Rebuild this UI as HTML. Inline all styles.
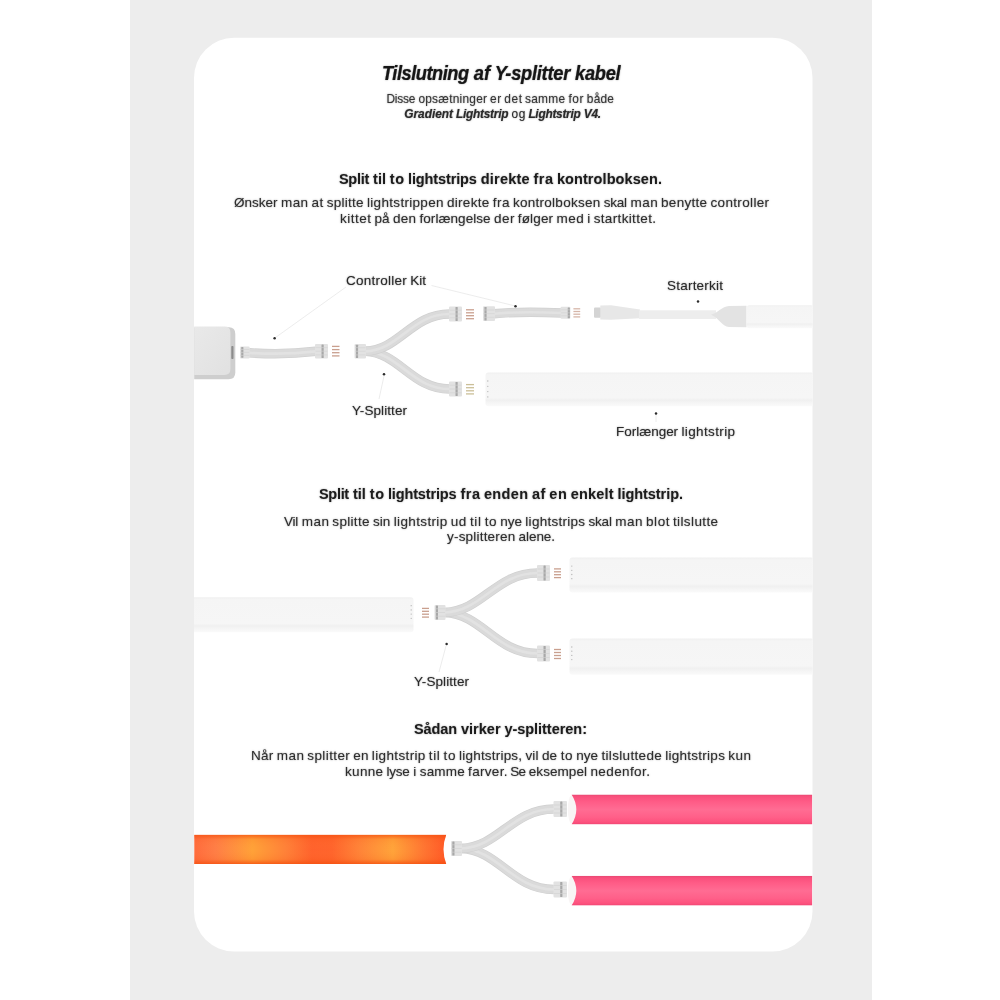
<!DOCTYPE html>
<html lang="da">
<head>
<meta charset="utf-8">
<title>Tilslutning af Y-splitter kabel</title>
<style>
html,body{margin:0;padding:0;background:#fff;}
body{width:1000px;height:1000px;overflow:hidden;}
.page{position:relative;width:1000px;height:1000px;overflow:hidden;background:#fff;font-family:"Liberation Sans",sans-serif;}
.band{position:absolute;left:130px;top:0;width:742px;height:1000px;background:#ededed;}
.card{position:absolute;left:194px;top:37px;width:618px;height:914px;border-radius:40px;background:#fff;transform-origin:0 0;transform:translateY(0.7px) scale(1.00081,0.99978);}
.dia{position:absolute;left:0;top:0;width:1000px;height:1000px;}
.txt{position:absolute;left:0;top:0;width:1000px;height:1000px;transform:translateZ(0);}
.t{position:absolute;white-space:nowrap;margin:0;padding:0;font-weight:400;font-style:normal;transform-origin:0 50%;}
.t b{font-weight:700;-webkit-text-stroke:0;}
.title b{-webkit-text-stroke:0.2px currentColor;}
.sub b{-webkit-text-stroke:0.12px currentColor;}
.body{-webkit-text-stroke:0.004em currentColor;}
.sub{-webkit-text-stroke:0.004em currentColor;}
.label{-webkit-text-stroke:0.004em currentColor;}
.t{text-shadow:0 0 1.7px rgba(40,40,40,0.5);}

</style>
</head>
<body>
<div class="page">
<div class="band"></div>
<div class="card"></div>
<svg class="dia" width="1000" height="1000" viewBox="0 0 1000 1000" aria-hidden="true">
<defs>
<linearGradient id="og" gradientUnits="userSpaceOnUse" x1="193" y1="0" x2="446" y2="0"><stop offset="0" stop-color="#ff6a3c"/><stop offset="0.09" stop-color="#ff7e46"/><stop offset="0.235" stop-color="#ffa238"/><stop offset="0.37" stop-color="#ff8038"/><stop offset="0.47" stop-color="#ff622c"/><stop offset="0.55" stop-color="#ff642c"/><stop offset="0.66" stop-color="#ff8438"/><stop offset="0.79" stop-color="#ffa43a"/><stop offset="0.91" stop-color="#ff7632"/><stop offset="1" stop-color="#ff5826"/></linearGradient>
<linearGradient id="ov" x1="0" y1="0" x2="0" y2="1"><stop offset="0" stop-color="#f4500f" stop-opacity="0.75"/><stop offset="0.16" stop-color="#f4500f" stop-opacity="0.12"/><stop offset="0.5" stop-color="#ff9040" stop-opacity="0"/><stop offset="0.84" stop-color="#f4500f" stop-opacity="0.14"/><stop offset="1" stop-color="#f4500f" stop-opacity="0.8"/></linearGradient>
<linearGradient id="pg" x1="0" y1="0" x2="0" y2="1"><stop offset="0" stop-color="#e64872"/><stop offset="0.07" stop-color="#f9507c"/><stop offset="0.25" stop-color="#ff5c87"/><stop offset="0.5" stop-color="#ff6c93"/><stop offset="0.75" stop-color="#ff6089"/><stop offset="0.92" stop-color="#fd527e"/><stop offset="1" stop-color="#f04673"/></linearGradient>
<linearGradient id="box" x1="0" y1="0" x2="1" y2="1"><stop offset="0" stop-color="#e9e9e9"/><stop offset="1" stop-color="#e1e1e1"/></linearGradient>
<clipPath id="cardclip"><rect x="194" y="37.7" width="618.5" height="913.8" rx="40"/></clipPath>
</defs>
<g clip-path="url(#cardclip)"><g>
<line x1="346.0" y1="287.0" x2="275.5" y2="337.5" stroke="#eaeaea" stroke-width="0.9"/>
<line x1="431.5" y1="285.5" x2="514.5" y2="305.8" stroke="#eaeaea" stroke-width="0.9"/>
<line x1="384.0" y1="376.0" x2="379.0" y2="399.0" stroke="#eaeaea" stroke-width="0.9"/>
<line x1="656.0" y1="415.0" x2="656.0" y2="422.0" stroke="#eaeaea" stroke-width="0.9"/>
<path d="M194.2,327.2 L229,327.2 Q235.3,327.2 235.3,334 L235.3,372.5 Q235.3,379.3 228.5,379.3 L194.2,379.3 Z" fill="#cecece"/>
<path d="M194.2,326.6 L224.5,326.6 Q230.4,326.6 230.4,332.5 L230.4,369 Q230.4,374.9 224.5,374.9 L194.2,374.9 Z" fill="url(#box)"/>
<rect x="231.3" y="346.0" width="2.2" height="13.0" rx="0.8" fill="#8c8c8c" />
<path d="M249,352.8 C270,354.2 295,353.8 316,351.3" fill="none" stroke="#d0d0d0" stroke-width="9.6" stroke-linecap="butt"/>
<path d="M249,352.8 C270,354.2 295,353.8 316,351.3" fill="none" stroke="#dadada" stroke-width="8.2" stroke-linecap="butt"/>
<path d="M249,352.8 C270,354.2 295,353.8 316,351.3" fill="none" stroke="#e3e3e3" stroke-width="2.7" stroke-linecap="butt" opacity="0.8"/>
<rect x="240.0" y="346.5" width="9.6" height="11.9" rx="1" fill="#e2e2e2" />
<rect x="241.2" y="347.1" width="2.2" height="10.7" rx="0.5" fill="#a8a8a8" />
<line x1="240.5" y1="349.5" x2="249.1" y2="349.5" stroke="#d2d2d2" stroke-width="0.6"/>
<line x1="240.5" y1="352.4" x2="249.1" y2="352.4" stroke="#d2d2d2" stroke-width="0.6"/>
<line x1="240.5" y1="355.4" x2="249.1" y2="355.4" stroke="#d2d2d2" stroke-width="0.6"/>
<rect x="315.0" y="344.0" width="13.0" height="14.5" rx="1" fill="#e2e2e2" />
<rect x="321.5" y="344.6" width="2.2" height="13.3" rx="0.5" fill="#a8a8a8" />
<line x1="315.5" y1="347.6" x2="327.5" y2="347.6" stroke="#d2d2d2" stroke-width="0.6"/>
<line x1="315.5" y1="351.2" x2="327.5" y2="351.2" stroke="#d2d2d2" stroke-width="0.6"/>
<line x1="315.5" y1="354.9" x2="327.5" y2="354.9" stroke="#d2d2d2" stroke-width="0.6"/>
<line x1="332.0" y1="346.4" x2="339.5" y2="346.4" stroke="#c99f8e" stroke-width="1.3"/>
<line x1="332.0" y1="349.6" x2="339.5" y2="349.6" stroke="#c99f8e" stroke-width="1.3"/>
<line x1="332.0" y1="352.7" x2="339.5" y2="352.7" stroke="#c99f8e" stroke-width="1.3"/>
<line x1="332.0" y1="355.9" x2="339.5" y2="355.9" stroke="#c99f8e" stroke-width="1.3"/>
<path d="M365.5,351.3 C399.1,352.4 411.7,389.0 449.5,389.0" fill="none" stroke="#d0d0d0" stroke-width="9.6" stroke-linecap="butt"/>
<path d="M365.5,351.3 C399.1,352.4 411.7,389.0 449.5,389.0" fill="none" stroke="#dadada" stroke-width="8.2" stroke-linecap="butt"/>
<path d="M365.5,351.3 C399.1,352.4 411.7,389.0 449.5,389.0" fill="none" stroke="#e3e3e3" stroke-width="2.7" stroke-linecap="butt" opacity="0.8"/>
<path d="M365.5,351.3 C399.1,350.2 411.7,314.0 449.5,314.0" fill="none" stroke="#d0d0d0" stroke-width="9.6" stroke-linecap="butt"/>
<path d="M365.5,351.3 C399.1,350.2 411.7,314.0 449.5,314.0" fill="none" stroke="#dadada" stroke-width="8.2" stroke-linecap="butt"/>
<path d="M365.5,351.3 C399.1,350.2 411.7,314.0 449.5,314.0" fill="none" stroke="#e3e3e3" stroke-width="2.7" stroke-linecap="butt" opacity="0.8"/>
<rect x="354.5" y="344.1" width="11.5" height="14.5" rx="1" fill="#e2e2e2" />
<rect x="355.9" y="344.7" width="2.2" height="13.3" rx="0.5" fill="#a8a8a8" />
<line x1="355.0" y1="347.7" x2="365.5" y2="347.7" stroke="#d2d2d2" stroke-width="0.6"/>
<line x1="355.0" y1="351.3" x2="365.5" y2="351.3" stroke="#d2d2d2" stroke-width="0.6"/>
<line x1="355.0" y1="354.9" x2="365.5" y2="354.9" stroke="#d2d2d2" stroke-width="0.6"/>
<rect x="449.0" y="306.5" width="13.0" height="15.0" rx="1" fill="#e2e2e2" />
<rect x="455.5" y="307.1" width="2.2" height="13.8" rx="0.5" fill="#a8a8a8" />
<line x1="449.5" y1="310.2" x2="461.5" y2="310.2" stroke="#d2d2d2" stroke-width="0.6"/>
<line x1="449.5" y1="314.0" x2="461.5" y2="314.0" stroke="#d2d2d2" stroke-width="0.6"/>
<line x1="449.5" y1="317.8" x2="461.5" y2="317.8" stroke="#d2d2d2" stroke-width="0.6"/>
<rect x="449.0" y="381.5" width="13.0" height="15.0" rx="1" fill="#e2e2e2" />
<rect x="455.5" y="382.1" width="2.2" height="13.8" rx="0.5" fill="#a8a8a8" />
<line x1="449.5" y1="385.2" x2="461.5" y2="385.2" stroke="#d2d2d2" stroke-width="0.6"/>
<line x1="449.5" y1="389.0" x2="461.5" y2="389.0" stroke="#d2d2d2" stroke-width="0.6"/>
<line x1="449.5" y1="392.8" x2="461.5" y2="392.8" stroke="#d2d2d2" stroke-width="0.6"/>
<line x1="466.0" y1="309.8" x2="474.0" y2="309.8" stroke="#c99f8e" stroke-width="1.3"/>
<line x1="466.0" y1="312.8" x2="474.0" y2="312.8" stroke="#c99f8e" stroke-width="1.3"/>
<line x1="466.0" y1="315.7" x2="474.0" y2="315.7" stroke="#c99f8e" stroke-width="1.3"/>
<line x1="466.0" y1="318.7" x2="474.0" y2="318.7" stroke="#c99f8e" stroke-width="1.3"/>
<line x1="466.0" y1="384.6" x2="474.0" y2="384.6" stroke="#cbbf98" stroke-width="1.3"/>
<line x1="466.0" y1="387.7" x2="474.0" y2="387.7" stroke="#cbbf98" stroke-width="1.3"/>
<line x1="466.0" y1="390.8" x2="474.0" y2="390.8" stroke="#cbbf98" stroke-width="1.3"/>
<line x1="466.0" y1="393.9" x2="474.0" y2="393.9" stroke="#cbbf98" stroke-width="1.3"/>
<path d="M494,313.7 C515,311.8 540,312 562,313" fill="none" stroke="#d0d0d0" stroke-width="9.4" stroke-linecap="butt"/>
<path d="M494,313.7 C515,311.8 540,312 562,313" fill="none" stroke="#dadada" stroke-width="8.0" stroke-linecap="butt"/>
<path d="M494,313.7 C515,311.8 540,312 562,313" fill="none" stroke="#e3e3e3" stroke-width="2.6" stroke-linecap="butt" opacity="0.8"/>
<rect x="483.0" y="306.3" width="12.0" height="14.7" rx="1" fill="#e2e2e2" />
<rect x="484.4" y="306.9" width="2.2" height="13.5" rx="0.5" fill="#a8a8a8" />
<line x1="483.5" y1="310.0" x2="494.5" y2="310.0" stroke="#d2d2d2" stroke-width="0.6"/>
<line x1="483.5" y1="313.6" x2="494.5" y2="313.6" stroke="#d2d2d2" stroke-width="0.6"/>
<line x1="483.5" y1="317.3" x2="494.5" y2="317.3" stroke="#d2d2d2" stroke-width="0.6"/>
<rect x="560.6" y="306.8" width="9.8" height="12.0" rx="1" fill="#e2e2e2" />
<rect x="567.7" y="307.4" width="2.2" height="10.8" rx="0.5" fill="#a8a8a8" />
<line x1="561.1" y1="309.8" x2="569.9" y2="309.8" stroke="#d2d2d2" stroke-width="0.6"/>
<line x1="561.1" y1="312.8" x2="569.9" y2="312.8" stroke="#d2d2d2" stroke-width="0.6"/>
<line x1="561.1" y1="315.8" x2="569.9" y2="315.8" stroke="#d2d2d2" stroke-width="0.6"/>
<line x1="573.4" y1="308.8" x2="580.2" y2="308.8" stroke="#d6b6a9" stroke-width="1.3"/>
<line x1="573.4" y1="311.5" x2="580.2" y2="311.5" stroke="#d6b6a9" stroke-width="1.3"/>
<line x1="573.4" y1="314.2" x2="580.2" y2="314.2" stroke="#d6b6a9" stroke-width="1.3"/>
<line x1="573.4" y1="316.9" x2="580.2" y2="316.9" stroke="#d6b6a9" stroke-width="1.3"/>
<rect x="594.0" y="307.6" width="7.0" height="10.2" rx="1" fill="#d4d4d4" />
<path d="M600.3,305.6 L611,305.2 L640,309.6 L640,318.2 L611,319.8 L600.3,319.4 Z" fill="#e7e7e7"/>
<rect x="639.0" y="310.3" width="77.0" height="8.7" rx="0" fill="#ededed" />
<path d="M711,314.7 C718,313 722,306.3 729,306 L746.5,305.8 L746.5,327.3 L729,327 C722,326.5 718,317 711,314.7 Z" fill="#e3e3e3"/>
<linearGradient id="ws83" x1="0" y1="0" x2="0" y2="1"><stop offset="0" stop-color="#f0f0f0"/><stop offset="0.07" stop-color="#f5f5f5"/><stop offset="0.75" stop-color="#f6f6f6"/><stop offset="0.82" stop-color="#f0f0f0"/><stop offset="0.9" stop-color="#f5f5f5"/><stop offset="1" stop-color="#fafafa"/></linearGradient>
<rect x="746.5" y="305.3" width="67.5" height="22.9" rx="3" fill="url(#ws83)" />
<linearGradient id="ws85" x1="0" y1="0" x2="0" y2="1"><stop offset="0" stop-color="#f0f0f0"/><stop offset="0.07" stop-color="#f5f5f5"/><stop offset="0.75" stop-color="#f6f6f6"/><stop offset="0.82" stop-color="#f0f0f0"/><stop offset="0.9" stop-color="#f5f5f5"/><stop offset="1" stop-color="#fafafa"/></linearGradient>
<rect x="485.5" y="372.4" width="328.5" height="33.8" rx="3" fill="url(#ws85)" />
<circle cx="487.8" cy="381.0" r="0.65" fill="#b4b4b4"/>
<circle cx="487.8" cy="386.3" r="0.65" fill="#b4b4b4"/>
<circle cx="487.8" cy="391.6" r="0.65" fill="#b4b4b4"/>
<circle cx="487.8" cy="396.9" r="0.65" fill="#b4b4b4"/>
<circle cx="274.6" cy="338.3" r="1.25" fill="#2b2b2b"/>
<circle cx="515.5" cy="306.3" r="1.25" fill="#2b2b2b"/>
<circle cx="698.0" cy="301.5" r="1.25" fill="#2b2b2b"/>
<circle cx="384.0" cy="374.2" r="1.25" fill="#2b2b2b"/>
<circle cx="656.0" cy="413.6" r="1.25" fill="#2b2b2b"/>
<line x1="446.0" y1="646.0" x2="439.0" y2="672.0" stroke="#eaeaea" stroke-width="0.9"/>
<linearGradient id="ws97" x1="0" y1="0" x2="0" y2="1"><stop offset="0" stop-color="#f0f0f0"/><stop offset="0.07" stop-color="#f5f5f5"/><stop offset="0.75" stop-color="#f6f6f6"/><stop offset="0.82" stop-color="#f0f0f0"/><stop offset="0.9" stop-color="#f5f5f5"/><stop offset="1" stop-color="#fafafa"/></linearGradient>
<rect x="192.0" y="597.2" width="221.5" height="35.1" rx="3" fill="url(#ws97)" />
<circle cx="411.2" cy="605.7" r="0.65" fill="#b4b4b4"/>
<circle cx="411.2" cy="609.9" r="0.65" fill="#b4b4b4"/>
<circle cx="411.2" cy="614.1" r="0.65" fill="#b4b4b4"/>
<circle cx="411.2" cy="618.3" r="0.65" fill="#b4b4b4"/>
<line x1="422.0" y1="608.4" x2="429.0" y2="608.4" stroke="#c99f8e" stroke-width="1.3"/>
<line x1="422.0" y1="611.3" x2="429.0" y2="611.3" stroke="#c99f8e" stroke-width="1.3"/>
<line x1="422.0" y1="614.2" x2="429.0" y2="614.2" stroke="#c99f8e" stroke-width="1.3"/>
<line x1="422.0" y1="617.1" x2="429.0" y2="617.1" stroke="#c99f8e" stroke-width="1.3"/>
<path d="M445.0,612.5 C482.0,613.7 495.9,653.5 537.5,653.5" fill="none" stroke="#d0d0d0" stroke-width="9.6" stroke-linecap="butt"/>
<path d="M445.0,612.5 C482.0,613.7 495.9,653.5 537.5,653.5" fill="none" stroke="#dadada" stroke-width="8.2" stroke-linecap="butt"/>
<path d="M445.0,612.5 C482.0,613.7 495.9,653.5 537.5,653.5" fill="none" stroke="#e3e3e3" stroke-width="2.7" stroke-linecap="butt" opacity="0.8"/>
<path d="M445.0,612.5 C482.0,611.3 495.9,573.0 537.5,573.0" fill="none" stroke="#d0d0d0" stroke-width="9.6" stroke-linecap="butt"/>
<path d="M445.0,612.5 C482.0,611.3 495.9,573.0 537.5,573.0" fill="none" stroke="#dadada" stroke-width="8.2" stroke-linecap="butt"/>
<path d="M445.0,612.5 C482.0,611.3 495.9,573.0 537.5,573.0" fill="none" stroke="#e3e3e3" stroke-width="2.7" stroke-linecap="butt" opacity="0.8"/>
<rect x="434.5" y="605.0" width="11.0" height="15.0" rx="1" fill="#e2e2e2" />
<rect x="435.8" y="605.6" width="2.2" height="13.8" rx="0.5" fill="#a8a8a8" />
<line x1="435.0" y1="608.8" x2="445.0" y2="608.8" stroke="#d2d2d2" stroke-width="0.6"/>
<line x1="435.0" y1="612.5" x2="445.0" y2="612.5" stroke="#d2d2d2" stroke-width="0.6"/>
<line x1="435.0" y1="616.2" x2="445.0" y2="616.2" stroke="#d2d2d2" stroke-width="0.6"/>
<rect x="537.0" y="565.0" width="13.0" height="16.0" rx="1" fill="#e2e2e2" />
<rect x="543.5" y="565.6" width="2.2" height="14.8" rx="0.5" fill="#a8a8a8" />
<line x1="537.5" y1="569.0" x2="549.5" y2="569.0" stroke="#d2d2d2" stroke-width="0.6"/>
<line x1="537.5" y1="573.0" x2="549.5" y2="573.0" stroke="#d2d2d2" stroke-width="0.6"/>
<line x1="537.5" y1="577.0" x2="549.5" y2="577.0" stroke="#d2d2d2" stroke-width="0.6"/>
<rect x="537.0" y="645.5" width="13.0" height="16.0" rx="1" fill="#e2e2e2" />
<rect x="543.5" y="646.1" width="2.2" height="14.8" rx="0.5" fill="#a8a8a8" />
<line x1="537.5" y1="649.5" x2="549.5" y2="649.5" stroke="#d2d2d2" stroke-width="0.6"/>
<line x1="537.5" y1="653.5" x2="549.5" y2="653.5" stroke="#d2d2d2" stroke-width="0.6"/>
<line x1="537.5" y1="657.5" x2="549.5" y2="657.5" stroke="#d2d2d2" stroke-width="0.6"/>
<line x1="554.0" y1="568.9" x2="561.0" y2="568.9" stroke="#c99f8e" stroke-width="1.3"/>
<line x1="554.0" y1="571.8" x2="561.0" y2="571.8" stroke="#c99f8e" stroke-width="1.3"/>
<line x1="554.0" y1="574.7" x2="561.0" y2="574.7" stroke="#c99f8e" stroke-width="1.3"/>
<line x1="554.0" y1="577.6" x2="561.0" y2="577.6" stroke="#c99f8e" stroke-width="1.3"/>
<line x1="554.0" y1="649.5" x2="561.0" y2="649.5" stroke="#c99f8e" stroke-width="1.3"/>
<line x1="554.0" y1="652.5" x2="561.0" y2="652.5" stroke="#c99f8e" stroke-width="1.3"/>
<line x1="554.0" y1="655.5" x2="561.0" y2="655.5" stroke="#c99f8e" stroke-width="1.3"/>
<line x1="554.0" y1="658.5" x2="561.0" y2="658.5" stroke="#c99f8e" stroke-width="1.3"/>
<linearGradient id="ws136" x1="0" y1="0" x2="0" y2="1"><stop offset="0" stop-color="#f0f0f0"/><stop offset="0.07" stop-color="#f5f5f5"/><stop offset="0.75" stop-color="#f6f6f6"/><stop offset="0.82" stop-color="#f0f0f0"/><stop offset="0.9" stop-color="#f5f5f5"/><stop offset="1" stop-color="#fafafa"/></linearGradient>
<rect x="569.5" y="557.6" width="244.5" height="35.0" rx="3" fill="url(#ws136)" />
<circle cx="571.8" cy="566.1" r="0.65" fill="#b4b4b4"/>
<circle cx="571.8" cy="570.3" r="0.65" fill="#b4b4b4"/>
<circle cx="571.8" cy="574.5" r="0.65" fill="#b4b4b4"/>
<circle cx="571.8" cy="578.7" r="0.65" fill="#b4b4b4"/>
<linearGradient id="ws142" x1="0" y1="0" x2="0" y2="1"><stop offset="0" stop-color="#f0f0f0"/><stop offset="0.07" stop-color="#f5f5f5"/><stop offset="0.75" stop-color="#f6f6f6"/><stop offset="0.82" stop-color="#f0f0f0"/><stop offset="0.9" stop-color="#f5f5f5"/><stop offset="1" stop-color="#fafafa"/></linearGradient>
<rect x="569.5" y="638.5" width="244.5" height="36.3" rx="3" fill="url(#ws142)" />
<circle cx="571.8" cy="647.0" r="0.65" fill="#b4b4b4"/>
<circle cx="571.8" cy="651.2" r="0.65" fill="#b4b4b4"/>
<circle cx="571.8" cy="655.4" r="0.65" fill="#b4b4b4"/>
<circle cx="571.8" cy="659.6" r="0.65" fill="#b4b4b4"/>
<circle cx="446.6" cy="644.0" r="1.25" fill="#2b2b2b"/>
<clipPath id="oc"><path d="M194.3,834.8 L446.2,834.8 Q440.8,849.3 446.2,863.9 L194.3,863.9 Z"/></clipPath>
<g clip-path="url(#oc)">
<rect x="192.0" y="834.6" width="256.0" height="29.4" rx="0" fill="url(#og)" />
<rect x="192.0" y="834.6" width="256.0" height="29.4" rx="0" fill="url(#ov)" />
</g>
<path d="M461.5,848.5 C498.5,849.7 512.4,889.5 554.0,889.5" fill="none" stroke="#d0d0d0" stroke-width="9.6" stroke-linecap="butt"/>
<path d="M461.5,848.5 C498.5,849.7 512.4,889.5 554.0,889.5" fill="none" stroke="#dadada" stroke-width="8.2" stroke-linecap="butt"/>
<path d="M461.5,848.5 C498.5,849.7 512.4,889.5 554.0,889.5" fill="none" stroke="#e3e3e3" stroke-width="2.7" stroke-linecap="butt" opacity="0.8"/>
<path d="M461.5,848.5 C498.5,847.3 512.4,809.0 554.0,809.0" fill="none" stroke="#d0d0d0" stroke-width="9.6" stroke-linecap="butt"/>
<path d="M461.5,848.5 C498.5,847.3 512.4,809.0 554.0,809.0" fill="none" stroke="#dadada" stroke-width="8.2" stroke-linecap="butt"/>
<path d="M461.5,848.5 C498.5,847.3 512.4,809.0 554.0,809.0" fill="none" stroke="#e3e3e3" stroke-width="2.7" stroke-linecap="butt" opacity="0.8"/>
<rect x="451.0" y="841.0" width="11.0" height="15.0" rx="1" fill="#e2e2e2" />
<rect x="452.3" y="841.6" width="2.2" height="13.8" rx="0.5" fill="#a8a8a8" />
<line x1="451.5" y1="844.8" x2="461.5" y2="844.8" stroke="#d2d2d2" stroke-width="0.6"/>
<line x1="451.5" y1="848.5" x2="461.5" y2="848.5" stroke="#d2d2d2" stroke-width="0.6"/>
<line x1="451.5" y1="852.2" x2="461.5" y2="852.2" stroke="#d2d2d2" stroke-width="0.6"/>
<rect x="553.5" y="801.0" width="13.5" height="16.0" rx="1" fill="#e2e2e2" />
<rect x="560.2" y="801.6" width="2.2" height="14.8" rx="0.5" fill="#a8a8a8" />
<line x1="554.0" y1="805.0" x2="566.5" y2="805.0" stroke="#d2d2d2" stroke-width="0.6"/>
<line x1="554.0" y1="809.0" x2="566.5" y2="809.0" stroke="#d2d2d2" stroke-width="0.6"/>
<line x1="554.0" y1="813.0" x2="566.5" y2="813.0" stroke="#d2d2d2" stroke-width="0.6"/>
<rect x="553.5" y="881.5" width="13.5" height="16.0" rx="1" fill="#e2e2e2" />
<rect x="560.2" y="882.1" width="2.2" height="14.8" rx="0.5" fill="#a8a8a8" />
<line x1="554.0" y1="885.5" x2="566.5" y2="885.5" stroke="#d2d2d2" stroke-width="0.6"/>
<line x1="554.0" y1="889.5" x2="566.5" y2="889.5" stroke="#d2d2d2" stroke-width="0.6"/>
<line x1="554.0" y1="893.5" x2="566.5" y2="893.5" stroke="#d2d2d2" stroke-width="0.6"/>
<ellipse cx="572" cy="809.5" rx="4.2" ry="14.4" fill="#f8f5f5"/>
<clipPath id="pc1"><path d="M571.6,794.5 L812.2,794.5 L812.2,824.4 L571.6,824.4 Q581,809.45 571.6,794.5 Z"/></clipPath>
<rect x="568" y="794.5" width="246" height="29.9" fill="url(#pg)" clip-path="url(#pc1)"/>
<ellipse cx="572" cy="890.7" rx="4.2" ry="14.4" fill="#f8f5f5"/>
<clipPath id="pc2"><path d="M571.6,875.8 L812.2,875.8 L812.2,905.6 L571.6,905.6 Q581,890.7 571.6,875.8 Z"/></clipPath>
<rect x="568" y="875.8" width="246" height="29.8" fill="url(#pg)" clip-path="url(#pc2)"/>
</g></g>
</svg>

<div class="txt">
<h1 class="t title" style="left:381.8px;top:61.84px;font-size:19.4px;line-height:23.28px;color:#161616;word-spacing:-0.36px;transform:scaleX(0.94);"><b style="font-style:italic;letter-spacing:-0.51px;margin-right:0.51px">Tilslutning</b> <b style="font-style:italic;letter-spacing:0.07px;margin-right:-0.07px">af</b> <b style="font-style:italic;letter-spacing:-0.25px;margin-right:0.25px">Y-splitter</b> <b style="font-style:italic;letter-spacing:-0.27px;margin-right:0.27px">kabel</b></h1>
<p class="t sub" style="left:386.4px;top:92.24px;font-size:11.9px;line-height:14.28px;color:#363636;word-spacing:-0.30px;"><span style="letter-spacing:-0.19px;margin-right:0.19px">Disse</span> <span style="letter-spacing:0.25px;margin-right:-0.25px">opsætninger</span> <span style="letter-spacing:0.60px;margin-left:0.03px;margin-right:-0.57px">er</span> <span style="letter-spacing:0.59px;margin-right:-0.59px">det</span> <span style="letter-spacing:0.27px;margin-right:-0.27px">samme</span> <span style="letter-spacing:0.60px;margin-left:0.29px;margin-right:-0.31px">for</span> <span style="letter-spacing:0.24px;margin-right:-0.24px">både</span></p>
<p class="t sub" style="left:404.3px;top:106.74px;font-size:11.9px;line-height:14.28px;color:#2a2a2a;word-spacing:-0.22px;"><b style="font-style:italic;letter-spacing:-0.03px;margin-right:0.03px">Gradient</b> <b style="font-style:italic;letter-spacing:-0.27px;margin-right:0.27px">Lightstrip</b> <span style="letter-spacing:0.50px;margin-right:-0.50px">og</span> <b style="font-style:italic;letter-spacing:-0.27px;margin-right:0.27px">Lightstrip</b> <b style="font-style:italic;letter-spacing:-0.36px;margin-right:0.36px">V4.</b></p>
<h2 class="t head" style="left:339.0px;top:171.28px;font-size:14.5px;line-height:17.4px;color:#1c1c1c;word-spacing:-0.15px;"><b style="letter-spacing:-0.30px;margin-right:0.30px">Split</b> <b style="letter-spacing:-0.02px;margin-right:0.02px">til</b> <b style="letter-spacing:0.60px;margin-left:0.01px;margin-right:-0.59px">to</b> <b style="letter-spacing:-0.13px;margin-right:0.13px">lightstrips</b> <b style="letter-spacing:0.23px;margin-right:-0.23px">direkte</b> <b style="letter-spacing:0.47px;margin-right:-0.47px">fra</b> <b style="letter-spacing:0.08px;margin-right:-0.08px">kontrolboksen.</b></h2>
<p class="t body" style="left:234.0px;top:195.32px;font-size:13.5px;line-height:16.2px;color:#2e2e2e;word-spacing:-0.40px;"><span style="letter-spacing:0.01px;margin-right:-0.01px">Ønsker</span> <span style="letter-spacing:0.46px;margin-right:-0.46px">man</span> <span style="letter-spacing:0.50px;margin-right:-0.50px">at</span> <span style="letter-spacing:0.29px;margin-right:-0.29px">splitte</span> <span style="letter-spacing:0.31px;margin-right:-0.31px">lightstrippen</span> <span style="letter-spacing:0.31px;margin-right:-0.31px">direkte</span> <span style="letter-spacing:0.55px;margin-right:-0.55px">fra</span> <span style="letter-spacing:0.28px;margin-right:-0.28px">kontrolboksen</span> <span style="letter-spacing:-0.19px;margin-right:0.19px">skal</span> <span style="letter-spacing:0.46px;margin-right:-0.46px">man</span> <span style="letter-spacing:0.29px;margin-right:-0.29px">benytte</span> <span style="letter-spacing:0.35px;margin-right:-0.35px">controller</span></p>
<p class="t body" style="left:340.0px;top:210.72px;font-size:13.5px;line-height:16.2px;color:#2e2e2e;word-spacing:-0.40px;"><span style="letter-spacing:0.51px;margin-right:-0.51px">kittet</span> <span style="letter-spacing:0.12px;margin-right:-0.12px">på</span> <span style="letter-spacing:0.32px;margin-right:-0.32px">den</span> <span style="letter-spacing:0.06px;margin-right:-0.06px">forlængelse</span> <span style="letter-spacing:0.49px;margin-right:-0.49px">der</span> <span style="letter-spacing:0.13px;margin-right:-0.13px">følger</span> <span style="letter-spacing:0.50px;margin-right:-0.50px">med</span> <span style="margin:0 0.14px">i</span> <span style="letter-spacing:0.35px;margin-right:-0.35px">startkittet.</span></p>
<div class="t label" style="left:346.0px;top:272.72px;font-size:13.5px;line-height:16.2px;color:#2a2a2a;word-spacing:-0.40px;"><span style="letter-spacing:0.25px;margin-right:-0.25px">Controller</span> <span style="letter-spacing:0.03px;margin-right:-0.03px">Kit</span></div>
<div class="t label" style="left:667.0px;top:277.82px;font-size:13.5px;line-height:16.2px;color:#2a2a2a;word-spacing:-0.40px;"><span style="letter-spacing:0.22px;margin-right:-0.22px">Starterkit</span></div>
<div class="t label" style="left:352.0px;top:403.22px;font-size:13.5px;line-height:16.2px;color:#2a2a2a;word-spacing:-0.38px;"><span style="letter-spacing:0.08px;margin-right:-0.08px">Y-Splitter</span></div>
<div class="t label" style="left:616.0px;top:423.82px;font-size:13.5px;line-height:16.2px;color:#2a2a2a;word-spacing:-0.39px;"><span style="letter-spacing:-0.02px;margin-right:0.02px">Forlænger</span> <span style="letter-spacing:0.36px;margin-right:-0.36px">lightstrip</span></div>
<h2 class="t head" style="left:319.0px;top:486.48px;font-size:14.5px;line-height:17.4px;color:#1c1c1c;word-spacing:-0.15px;"><b style="letter-spacing:-0.31px;margin-right:0.31px">Split</b> <b style="letter-spacing:-0.03px;margin-right:0.03px">til</b> <b style="letter-spacing:0.60px;margin-right:-0.60px">to</b> <b style="letter-spacing:-0.14px;margin-right:0.14px">lightstrips</b> <b style="letter-spacing:0.46px;margin-right:-0.46px">fra</b> <b style="letter-spacing:0.39px;margin-right:-0.39px">enden</b> <b style="letter-spacing:0.46px;margin-right:-0.46px">af</b> <b style="letter-spacing:0.60px;margin-left:0.01px;margin-right:-0.59px">en</b> <b style="letter-spacing:0.18px;margin-right:-0.18px">enkelt</b> <b style="letter-spacing:-0.05px;margin-right:0.05px">lightstrip.</b></h2>
<p class="t body" style="left:284.0px;top:514.02px;font-size:13.5px;line-height:16.2px;color:#2e2e2e;word-spacing:-0.39px;"><span style="letter-spacing:-0.21px;margin-right:0.21px">Vil</span> <span style="letter-spacing:0.50px;margin-right:-0.50px">man</span> <span style="letter-spacing:0.31px;margin-right:-0.31px">splitte</span> <span style="letter-spacing:0.09px;margin-right:-0.09px">sin</span> <span style="letter-spacing:0.36px;margin-right:-0.36px">lightstrip</span> <span style="letter-spacing:0.60px;margin-left:0.14px;margin-right:-0.46px">ud</span> <span style="letter-spacing:0.60px;margin-left:0.10px;margin-right:-0.50px">til</span> <span style="letter-spacing:0.60px;margin-left:0.28px;margin-right:-0.32px">to</span> <span style="letter-spacing:-0.00px;margin-right:0.00px">nye</span> <span style="letter-spacing:0.27px;margin-right:-0.27px">lightstrips</span> <span style="letter-spacing:-0.17px;margin-right:0.17px">skal</span> <span style="letter-spacing:0.50px;margin-right:-0.50px">man</span> <span style="letter-spacing:0.60px;margin-left:0.04px;margin-right:-0.56px">blot</span> <span style="letter-spacing:0.38px;margin-right:-0.38px">tilslutte</span></p>
<p class="t body" style="left:447.0px;top:529.02px;font-size:13.5px;line-height:16.2px;color:#2e2e2e;word-spacing:-0.40px;"><span style="letter-spacing:0.20px;margin-right:-0.20px">y-splitteren</span> <span style="letter-spacing:-0.08px;margin-right:0.08px">alene.</span></p>
<div class="t label" style="left:414.0px;top:673.72px;font-size:13.5px;line-height:16.2px;color:#2a2a2a;word-spacing:-0.38px;"><span style="letter-spacing:0.08px;margin-right:-0.08px">Y-Splitter</span></div>
<h2 class="t head" style="left:414.0px;top:721.48px;font-size:14.5px;line-height:17.4px;color:#1c1c1c;word-spacing:-0.16px;"><b style="letter-spacing:-0.11px;margin-right:0.11px">Sådan</b> <b style="letter-spacing:0.02px;margin-right:-0.02px">virker</b> <b style="letter-spacing:-0.04px;margin-right:0.04px">y-splitteren:</b></h2>
<p class="t body" style="left:251.0px;top:747.72px;font-size:13.5px;line-height:16.2px;color:#2e2e2e;word-spacing:-0.39px;"><span style="letter-spacing:0.27px;margin-right:-0.27px">Når</span> <span style="letter-spacing:0.50px;margin-right:-0.50px">man</span> <span style="letter-spacing:0.39px;margin-right:-0.39px">splitter</span> <span style="letter-spacing:0.23px;margin-right:-0.23px">en</span> <span style="letter-spacing:0.36px;margin-right:-0.36px">lightstrip</span> <span style="letter-spacing:0.60px;margin-left:0.10px;margin-right:-0.50px">til</span> <span style="letter-spacing:0.60px;margin-left:0.28px;margin-right:-0.32px">to</span> <span style="letter-spacing:0.20px;margin-right:-0.20px">lightstrips,</span> <span style="letter-spacing:0.16px;margin-right:-0.16px">vil</span> <span style="letter-spacing:0.21px;margin-right:-0.21px">de</span> <span style="letter-spacing:0.60px;margin-left:0.28px;margin-right:-0.32px">to</span> <span style="letter-spacing:0.00px;margin-right:-0.00px">nye</span> <span style="letter-spacing:0.33px;margin-right:-0.33px">tilsluttede</span> <span style="letter-spacing:0.27px;margin-right:-0.27px">lightstrips</span> <span style="letter-spacing:0.49px;margin-right:-0.49px">kun</span></p>
<p class="t body" style="left:345.0px;top:763.62px;font-size:13.5px;line-height:16.2px;color:#2e2e2e;word-spacing:-0.39px;"><span style="letter-spacing:0.32px;margin-right:-0.32px">kunne</span> <span style="letter-spacing:-0.23px;margin-right:0.23px">lyse</span> <span style="margin:0 0.14px">i</span> <span style="letter-spacing:0.16px;margin-right:-0.16px">samme</span> <span style="letter-spacing:0.33px;margin-right:-0.33px">farver.</span> <span style="letter-spacing:-0.60px;margin-left:-0.74px;margin-right:-0.14px">Se</span> <span style="letter-spacing:0.07px;margin-right:-0.07px">eksempel</span> <span style="letter-spacing:0.40px;margin-right:-0.40px">nedenfor.</span></p>
</div>
</div>
</body>
</html>
